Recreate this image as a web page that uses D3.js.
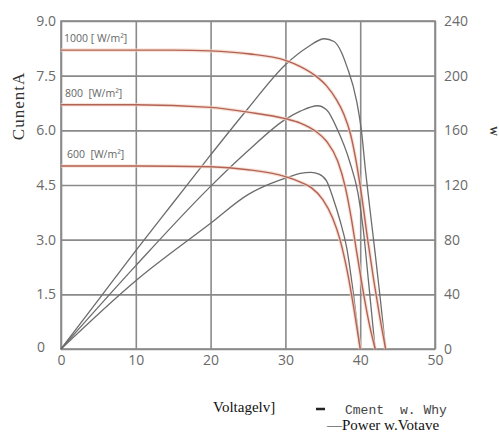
<!DOCTYPE html>
<html>
<head>
<meta charset="utf-8">
<script src="https://cdn.jsdelivr.net/npm/d3@7"></script>
<style>
  html, body { margin: 0; padding: 0; background: #fff; }
  svg { display: block; }
</style>
</head>
<body>
<svg id="chart" width="499" height="434"></svg>
<script>
// I-V and P-V curves of a PV module at three irradiance levels
const irradiance = ['1000', '800', '600'];

const vCur1000 = [0, 5, 10, 15, 20, 25, 30, 32, 34, 35.5, 36.8, 37.8, 38.7, 39.5, 40.2, 41.0, 41.8, 42.6, 43.4];
const cur1000  = [8.2, 8.2, 8.2, 8.2, 8.18, 8.1, 7.92, 7.75, 7.5, 7.22, 6.85, 6.45, 5.9, 5.1, 4.2, 3.0, 1.9, 0.9, 0];
const vPow1000 = [0, 5, 10, 15, 20, 25, 30, 33, 35.2, 36.5, 37.5, 38.2, 39.5, 40.2, 40.7, 41.2, 42.0, 42.7, 43.4];
const pow1000  = [0, 36, 72, 107, 142, 176, 208, 221, 227, 225, 217, 207, 182, 158, 131, 107, 70, 36, 0];

const vCur800 = [0, 10, 20, 25, 30, 32, 34, 35.5, 37, 38, 38.8, 39.5, 40.3, 41.1, 42];
const cur800  = [6.7, 6.7, 6.63, 6.5, 6.32, 6.2, 5.98, 5.7, 5.15, 4.45, 3.6, 2.7, 1.7, 0.8, 0];
const vPow800 = [0, 10, 20, 25, 30, 32, 34.3, 35.5, 37, 38.6, 39.7, 40.4, 41.1, 42];
const pow800  = [0, 61, 119, 145, 168, 174, 178, 175, 160, 137, 114, 88, 50, 0];

const vCur600 = [0, 10, 20, 25, 30, 32, 33.5, 35, 36.3, 37.3, 38.3, 39.2, 40];
const cur600  = [5.02, 5.02, 5.0, 4.92, 4.73, 4.58, 4.42, 4.1, 3.6, 3.0, 2.1, 1.05, 0];
const vPow600 = [0, 10, 20, 25, 28, 30, 32, 33.4, 34.5, 35.5, 36.4, 37.3, 38.2, 39.1, 40];
const pow600  = [0, 50, 92, 113, 121, 125, 128.5, 129.3, 128, 123, 110, 94, 74, 40, 0];

const xTicks = [0, 10, 20, 30, 40, 50];
const yLeftTicks = [0, 1.5, 3.0, 4.5, 6.0, 7.5, 9.0];
const yLeftLabels = ['0', '1.5', '3.0', '4.5', '6.0', '7.5', '9.0'];
const yRightTicks = [0, 40, 80, 120, 160, 200, 240];

const currentSeries = [
  { v: vCur1000, y: cur1000 },
  { v: vCur800, y: cur800 },
  { v: vCur600, y: cur600 }
];
const powerSeries = [
  { v: vPow1000, y: pow1000 },
  { v: vPow800, y: pow800 },
  { v: vPow600, y: pow600 }
];

const margin = { top: 21, right: 64, bottom: 85, left: 61 };
const W = 499, H = 434;
const width = W - margin.left - margin.right;
const height = H - margin.top - margin.bottom;

const svg = d3.select('#chart');
const g = svg.append('g').attr('transform', `translate(${margin.left},${margin.top})`);

const x = d3.scaleLinear().domain([0, 50]).range([0, width]);
const yI = d3.scaleLinear().domain([0, 9]).range([height, 0]);
const yP = d3.scaleLinear().domain([0, 240]).range([height, 0]);

const gridColor = '#8a8a8a';
const tickColor = '#6a6a6a';
const tickFont = '"Open Sans", sans-serif';

// Eje X + rejilla vertical
const xAxis = g.append('g')
  .attr('transform', `translate(0,${height})`)
  .call(d3.axisBottom(x).tickValues(xTicks).tickSize(-height).tickPadding(6).tickFormat(d3.format('d')));
xAxis.select('.domain').remove();
xAxis.selectAll('line').attr('stroke', gridColor).attr('stroke-width', 1.6);
xAxis.selectAll('text')
  .style('font-family', tickFont).style('font-size', '14px').attr('fill', tickColor);

// Eje Y izquierdo + rejilla horizontal
const yAxis = g.append('g')
  .call(d3.axisLeft(yI).tickValues(yLeftTicks).tickSize(-width).tickPadding(5)
    .tickFormat((d, i) => yLeftLabels[i]));
yAxis.select('.domain').remove();
yAxis.selectAll('line').attr('stroke', gridColor).attr('stroke-width', 1.6);
yAxis.selectAll('text')
  .style('font-family', tickFont).style('font-size', '14px').attr('fill', tickColor)
  .attr('x', d => d === 0 ? -16 : -5)
  .attr('dy', d => d === 0 ? '0.15em' : '0.32em');

// Eje Y derecho
const yAxisR = g.append('g')
  .attr('transform', `translate(${width},0)`)
  .call(d3.axisRight(yP).tickValues(yRightTicks).tickSize(0).tickPadding(9));
yAxisR.select('.domain').remove();
yAxisR.selectAll('text')
  .style('font-family', tickFont).style('font-size', '14px').attr('fill', tickColor);

// Marco
g.append('rect')
  .attr('x', 0).attr('y', 0).attr('width', width).attr('height', height)
  .attr('fill', 'none').attr('stroke', gridColor).attr('stroke-width', 1.6);

// Curvas de potencia
const powerLine = d3.line()
  .x(d => x(d[0]))
  .y(d => yP(d[1]))
  .curve(d3.curveMonotoneX);

powerSeries.forEach(s => {
  const pts = s.v.map((v, i) => [v, s.y[i]]);
  g.append('path')
    .attr('d', powerLine(pts))
    .attr('fill', 'none')
    .attr('stroke', '#6c6c6c')
    .attr('stroke-width', 1.3);
});

// Curvas de corriente
const currentLine = d3.line()
  .x(d => x(d[0]))
  .y(d => yI(d[1]))
  .curve(d3.curveMonotoneX);

currentSeries.forEach(s => {
  const pts = s.v.map((v, i) => [v, s.y[i]]);
  g.append('path')
    .attr('d', currentLine(pts))
    .attr('fill', 'none')
    .attr('stroke', '#f5d6c8')
    .attr('stroke-opacity', 0.7)
    .attr('stroke-width', 3.6);
  g.append('path')
    .attr('d', currentLine(pts))
    .attr('fill', 'none')
    .attr('stroke', '#b36355')
    .attr('stroke-width', 1.4);
});

// Etiquetas de irradiancia
const irrLabels = ['1000 [ W/m²]', '800  [W/m²]', '600  [W/m²]'];
const irrX = [3, 4, 6];
irradiance.forEach((d, i) => {
  g.append('text')
    .attr('x', irrX[i])
    .attr('y', yI(currentSeries[i].y[0]) - 8)
    .attr('fill', '#666')
    .style('font-family', tickFont)
    .style('font-size', '10.5px')
    .style('white-space', 'pre')
    .attr('xml:space', 'preserve')
    .text(irrLabels[i]);
});

// Etiqueta Y izquierda
svg.append('text')
  .attr('transform', `translate(24,${margin.top + 85}) rotate(-90)`)
  .attr('text-anchor', 'middle')
  .style('font-family', '"Liberation Serif", serif')
  .style('font-size', '17px')
  .style('letter-spacing', '1px')
  .attr('fill', '#333')
  .text('CunentA');

// Etiqueta Y derecha
svg.append('text')
  .attr('transform', 'translate(490,131) rotate(90)')
  .attr('text-anchor', 'middle')
  .style('font-family', '"Liberation Serif", serif')
  .style('font-size', '10px')
  .style('font-weight', 'bold')
  .attr('fill', '#333')
  .text('W');

// Etiqueta X y leyenda
svg.append('text')
  .attr('x', 213).attr('y', 412)
  .style('font-family', '"Liberation Serif", serif')
  .style('font-size', '15px')
  .attr('fill', '#111')
  .text('Voltagelv]');

svg.append('line')
  .attr('x1', 316).attr('x2', 325).attr('y1', 409).attr('y2', 409)
  .attr('stroke', '#222').attr('stroke-width', 2.5);

svg.append('text')
  .attr('x', 345).attr('y', 414)
  .style('font-family', '"Liberation Mono", monospace')
  .style('font-size', '13px')
  .attr('fill', '#444')
  .text('Cment');

svg.append('text')
  .attr('x', 400).attr('y', 414)
  .style('font-family', '"Liberation Mono", monospace')
  .style('font-size', '13px')
  .attr('fill', '#444')
  .text('w. Why');

svg.append('text')
  .attr('x', 327).attr('y', 430)
  .style('font-family', '"Liberation Serif", serif')
  .style('font-size', '15px')
  .attr('fill', '#111')
  .text('—Power w.Votave');
</script>
</body>
</html>
